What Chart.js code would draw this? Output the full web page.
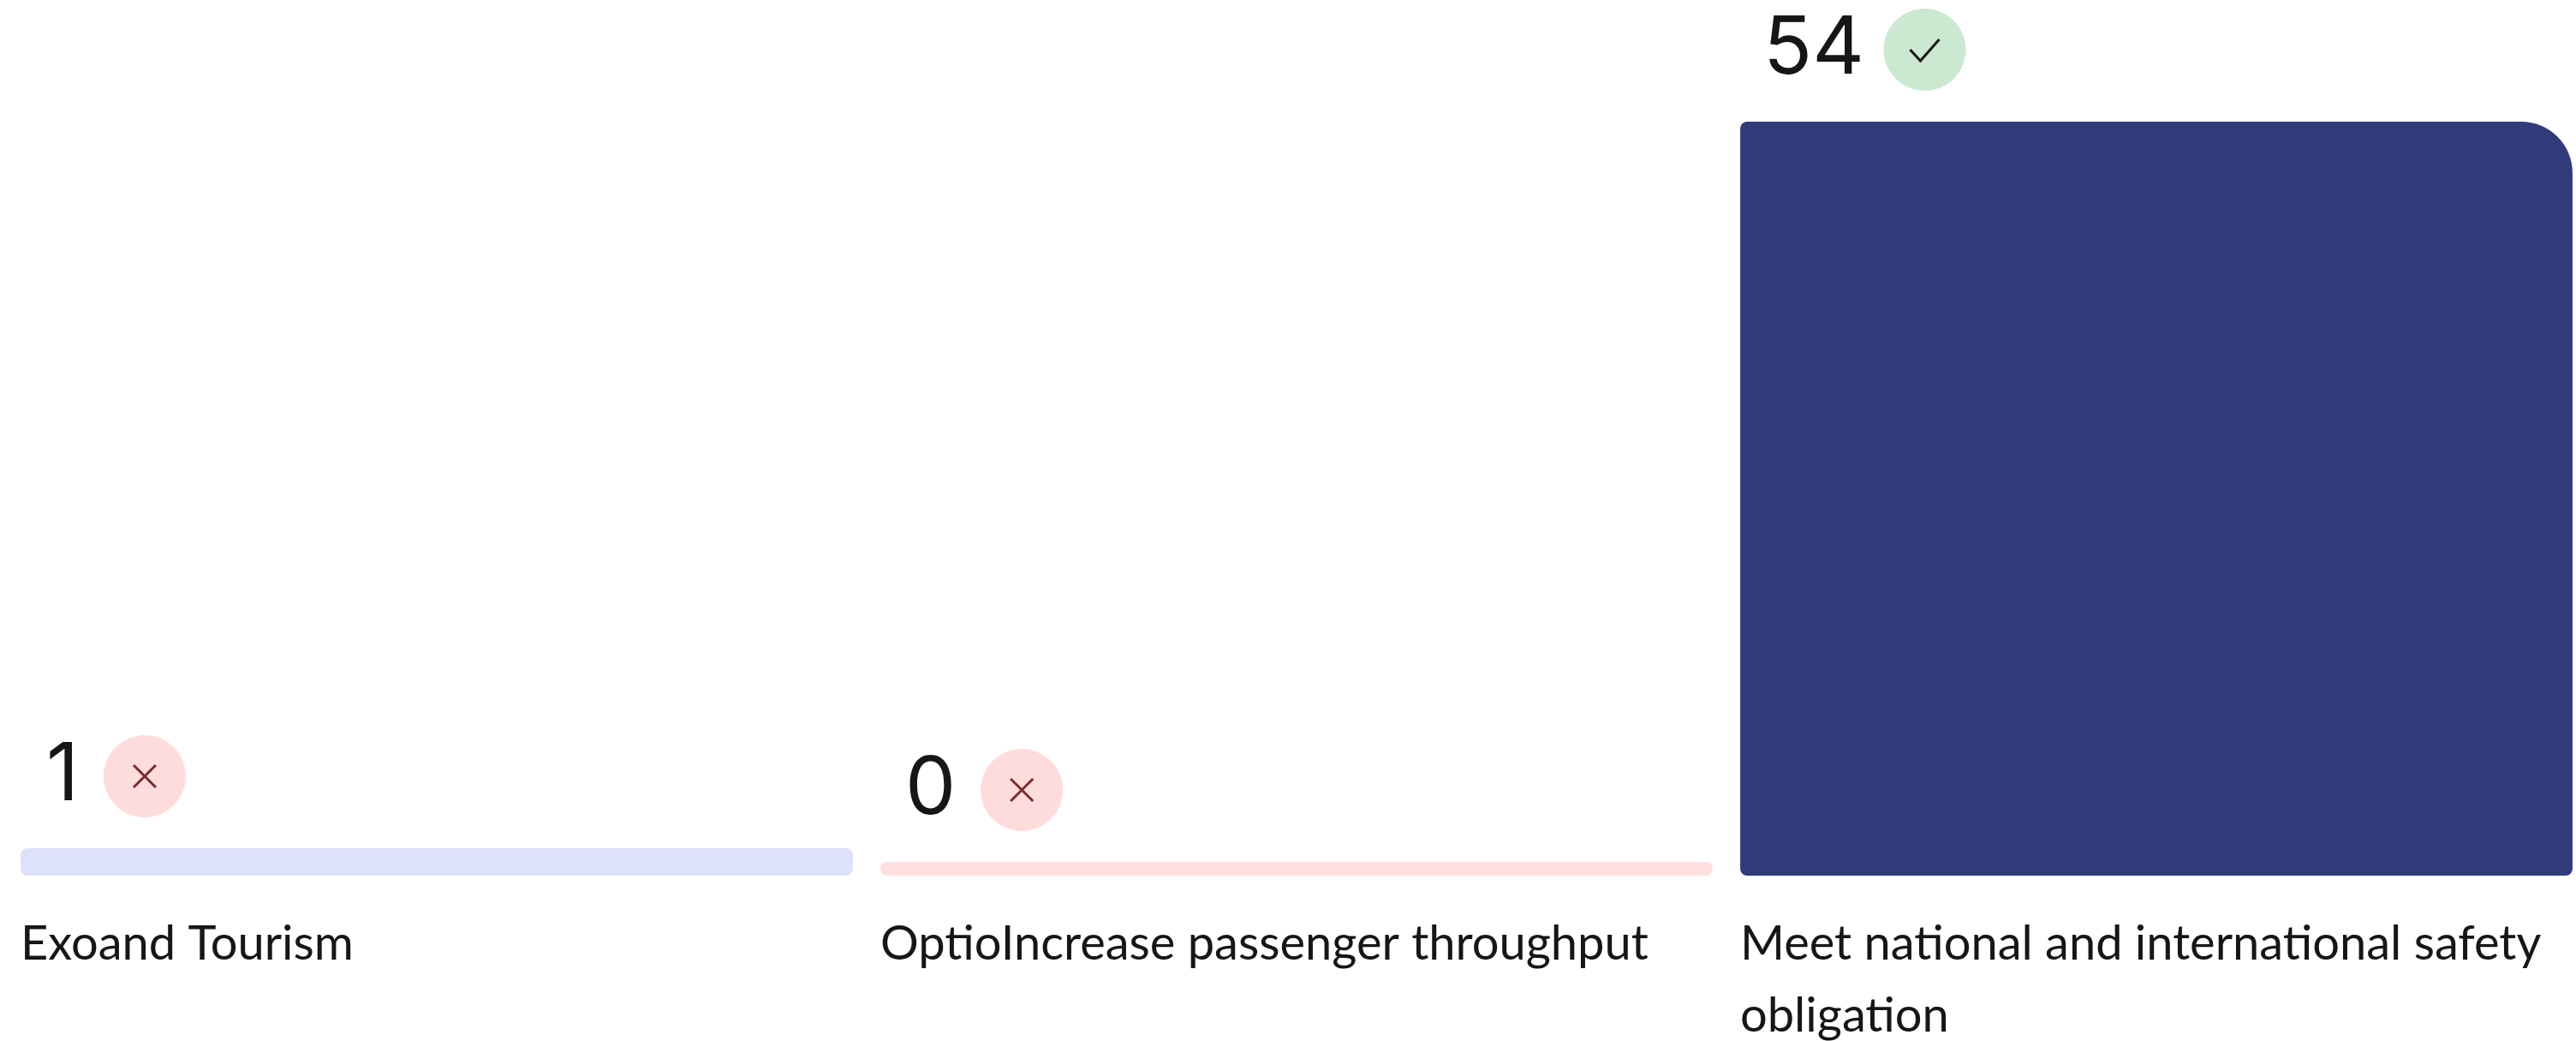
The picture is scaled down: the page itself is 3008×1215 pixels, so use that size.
<!DOCTYPE html>
<html>
<head>
<meta charset="utf-8">
<script src="https://cdn.jsdelivr.net/npm/chart.js@4"></script>
<style>
  html, body { margin: 0; background: #fff; overflow: hidden; }
  canvas { display: block; }
</style>
</head>
<body>
<canvas id="optionsChart" width="3028" height="1215"></canvas>
<script>
const categories = [
    ['Exoand Tourism'],
    ['OptioIncrease passenger throughput'],
    ['Meet national and international safety', 'obligation']
];
const votes = [1, 0, 54];
const statuses = ['fail', 'fail', 'pass'];
const barColors = ['#dde1fa', '#ffdfdf', '#323b7a'];

const textColor = '#161616';
const fontFamily = 'Lato, sans-serif';

// vote count and pass/fail badge sitting above each bar
const voteBadges = {
    id: 'voteBadges',
    afterDatasetsDraw(chart) {
        const ctx = chart.ctx;
        const bars = chart.getDatasetMeta(0).data;
        bars.forEach((bar, i) => {
            const left = bar.x - bar.width / 2;
            const text = String(votes[i]);
            ctx.save();
            ctx.font = '400 94px Inter, sans-serif';
            ctx.fillStyle = textColor;
            ctx.textAlign = 'left';
            ctx.textBaseline = 'alphabetic';
            const m = ctx.measureText(text);
            const inkStart = left + 34;
            ctx.fillText(text, inkStart + m.actualBoundingBoxLeft, bar.y - 56);

            const inkWidth = m.actualBoundingBoxLeft + m.actualBoundingBoxRight;
            const cx = inkStart + inkWidth * 0.88 + 40 + 48;
            const cy = bar.y - 84;
            const pass = statuses[i] === 'pass';
            ctx.beginPath();
            ctx.arc(cx, cy, 48, 0, Math.PI * 2);
            ctx.fillStyle = pass ? '#cbe9d0' : '#ffdcdc';
            ctx.fill();

            ctx.beginPath();
            if (pass) {
                ctx.moveTo(cx - 17, cy);
                ctx.lineTo(cx - 5, cy + 13);
                ctx.lineTo(cx + 17, cy - 12);
                ctx.strokeStyle = textColor;
            } else {
                ctx.moveTo(cx - 13, cy - 13);
                ctx.lineTo(cx + 13, cy + 13);
                ctx.moveTo(cx + 13, cy - 13);
                ctx.lineTo(cx - 13, cy + 13);
                ctx.strokeStyle = '#7b2a2d';
            }
            ctx.lineWidth = 3;
            ctx.stroke();
            ctx.restore();
        });
    }
};

new Chart(document.getElementById('optionsChart').getContext('2d'), {
    type: 'bar',
    data: {
        labels: categories,
        datasets: [{
            label: 'Votes',
            data: votes,
            base: -1,
            backgroundColor: barColors,
            borderRadius: ctx => ({
                topLeft: 8,
                topRight: ctx.dataIndex === 2 ? 60 : 8,
                bottomLeft: 8,
                bottomRight: 8
            }),
            borderSkipped: false,
            categoryPercentage: 1,
            barPercentage: 0.968
        }]
    },
    options: {
        responsive: false,
        animation: false,
        layout: { padding: { top: 142, left: 8, right: 8, bottom: 0 } },
        plugins: {
            legend: { display: false },
            tooltip: { enabled: false }
        },
        scales: {
            x: {
                grid: { display: false },
                border: { display: false },
                // long labels must not shrink the plot area
                afterFit: scale => {
                    scale.height = 193;
                    scale.paddingLeft = 0;
                    scale.paddingRight = 0;
                },
                ticks: {
                    align: 'start',
                    labelOffset: -486,
                    padding: 30,
                    autoSkip: false,
                    minRotation: 0,
                    maxRotation: 0,
                    color: textColor,
                    font: { family: fontFamily, size: 56, lineHeight: 84 / 56 }
                }
            },
            y: {
                display: false,
                min: -1,
                max: 54
            }
        }
    },
    plugins: [voteBadges]
});
</script>
</body>
</html>
